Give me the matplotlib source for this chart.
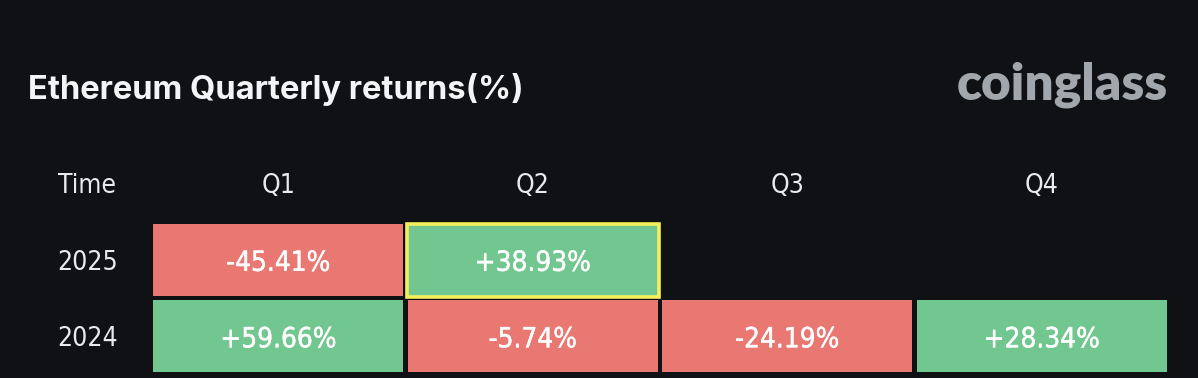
import numpy as np
import matplotlib.pyplot as plt
import matplotlib.patheffects as pe
from matplotlib.patches import Rectangle

# quarterly returns in percent, None = no data yet
quarters = ["Q1", "Q2", "Q3", "Q4"]
years = ["2025", "2024"]
returns_2025 = [-45.41, 38.93, None, None]
returns_2024 = [59.66, -5.74, -24.19, 28.34]
highlight = ("2025", "Q2")

bg = "#0f1115"
red = "#e97772"
green = "#71c78f"

# narrow font for the table, a thin stroke makes it look medium weight
cell_font = dict(family="DejaVu Sans", fontstretch="condensed")
medium = [pe.withStroke(linewidth=0.3, foreground="white")]

fig = plt.figure(figsize=(11.98, 3.78), dpi=100, facecolor=bg)

# the grid of cells lives in its own axes, one unit per cell
ax = fig.add_axes([151 / 1198, 3.5 / 378, 1018 / 1198, 153 / 378])
ax.set_facecolor(bg)
ax.set_xlim(-0.5, len(quarters) - 0.5)
ax.set_ylim(len(years) - 0.5, -0.5)
ax.axis("off")

w, h = 0.984, 0.935
table = [returns_2025, returns_2024]
for r, row in enumerate(table):
    for c, v in enumerate(row):
        if v is None:
            continue
        col = green if v >= 0 else red
        ax.add_patch(Rectangle((c - w / 2, r - h / 2), w, h, facecolor=col, edgecolor="none"))
        if (years[r], quarters[c]) == highlight:
            ax.add_patch(Rectangle((c - w / 2 - 0.002, r - h / 2 - 0.005), w + 0.006, h + 0.03,
                                   facecolor="none", edgecolor="#f5f05a", linewidth=2.6))
        ax.text(c, r + 0.04, f"{v:+.2f}%", ha="center", va="center", color="white",
                fontsize=20, path_effects=medium, **cell_font)

# column headers and row labels
for c, q in enumerate(quarters):
    ax.text(c, -0.96, q, ha="center", va="center", color="#e8eaed",
            fontsize=19, clip_on=False, **cell_font)
ax.text(-0.75, -0.96, "Time", ha="center", va="center", color="#e8eaed",
        fontsize=19, clip_on=False, **cell_font)
for r, y in enumerate(years):
    ax.text(-0.75, r + 0.04, y, ha="center", va="center", color="#e8eaed",
            fontsize=19, clip_on=False, **cell_font)

fig.text(28 / 1198, 1 - 89 / 378, "Ethereum Quarterly returns(%)", ha="left", va="center",
         color="#f2f4f7", fontsize=23.5, fontweight="bold", family="Inter")
fig.text(1168 / 1198, 1 - 85 / 378, "coinglass", ha="right", va="center",
         color="#a2a6ad", fontsize=37, fontweight="heavy", family="Lato")

fig.savefig("out.png", dpi=100, facecolor=bg)
